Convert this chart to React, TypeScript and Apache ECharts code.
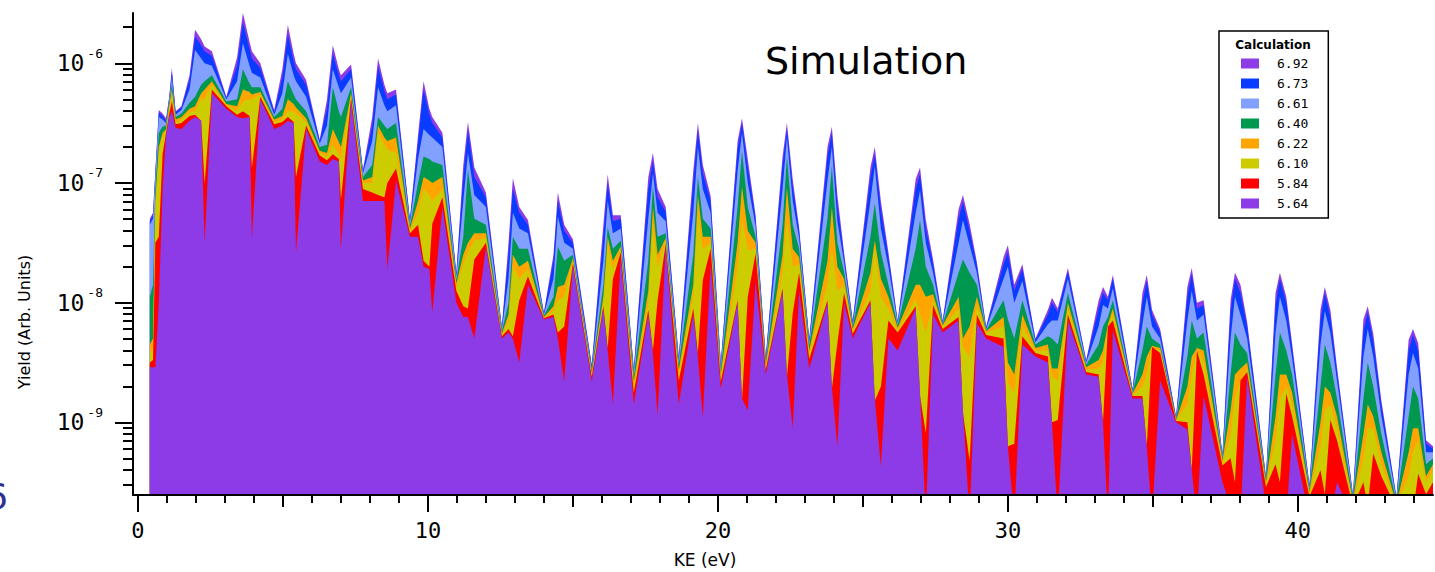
import React, { useEffect, useRef } from "react";
import * as echarts from "echarts";

// Kinetic energy sample positions (eV) shared by all calculations
const energyGrid = [
  0.41, 0.52, 0.6, 0.72, 0.85, 0.97, 1.08, 1.17, 1.3,
  1.5, 1.78, 1.97, 2.18, 2.3, 2.55,
  3.05, 3.42, 3.62, 3.85, 3.93, 4.22,
  4.7, 4.98, 5.17, 5.37, 5.45, 5.8,
  6.27, 6.52, 6.72, 6.93, 7.0, 7.35,
  7.76, 8.08, 8.28, 8.5, 8.6, 8.9,
  9.38, 9.66, 9.85, 10.05, 10.15, 10.5,
  10.98, 11.22, 11.38, 11.6, 12.0,
  12.55, 12.78, 12.93, 13.15, 13.45,
  14.0, 14.33, 14.48, 14.7, 15.0,
  15.65, 16.05, 16.2, 16.38, 16.65,
  17.1, 17.6, 17.76, 17.92, 18.2,
  18.65, 19.15, 19.31, 19.48, 19.75,
  20.1, 20.68, 20.83, 21.03, 21.3,
  21.65, 22.23, 22.38, 22.58, 22.8,
  23.15, 23.78, 23.93, 24.12, 24.35,
  24.65, 25.26, 25.41, 25.62, 25.88,
  26.2, 26.82, 26.97, 27.17, 27.42,
  27.75, 28.3, 28.45, 28.68, 28.93,
  29.25, 29.85, 30.0, 30.22, 30.5,
  30.95, 31.38, 31.52, 31.72, 32.07,
  32.7, 33.13, 33.28, 33.45, 33.62,
  34.3, 34.64, 34.79, 34.97, 35.25,
  35.8, 36.19, 36.34, 36.52, 36.75,
  37.4, 37.68, 37.83, 38.02, 38.25,
  38.9, 39.23, 39.38, 39.6, 39.8,
  40.4, 40.78, 40.93, 41.12, 41.35,
  41.9, 42.26, 42.41, 42.6, 42.88,
  43.4, 43.82, 43.97, 44.15, 44.42,
  44.66,
];

// Yield values, stored as log10(yield)
const log10Yield692 = [
  -7.30, -7.25, -6.90, -6.39, -6.42, -6.46, -6.28, -6.04, -6.40,
  -6.36, -6.10, -5.72, -5.80, -5.86, -5.90,
  -6.28, -5.95, -5.58, -5.82, -5.90, -6.00,
  -6.39, -6.05, -5.68, -5.92, -6.00, -6.14,
  -6.64, -6.30, -5.85, -6.05, -6.10, -6.01,
  -6.89, -6.45, -5.96, -6.18, -6.25, -6.22,
  -7.30, -6.60, -6.15, -6.38, -6.45, -6.58,
  -7.75, -6.85, -6.49, -6.87, -7.08,
  -8.20, -7.50, -6.96, -7.20, -7.31,
  -8.08, -7.60, -7.08, -7.35, -7.47,
  -8.52, -7.35, -6.93, -7.27, -7.27,
  -8.55, -6.95, -6.75, -7.05, -7.20,
  -8.45, -6.90, -6.50, -6.85, -7.11,
  -8.50, -6.65, -6.46, -6.80, -7.27,
  -8.45, -6.78, -6.50, -6.97, -7.37,
  -8.30, -6.70, -6.53, -7.10, -7.58,
  -8.15, -6.87, -6.70, -7.15, -7.58,
  -8.15, -6.97, -6.87, -7.31, -7.64,
  -8.15, -7.22, -7.10, -7.34, -7.66,
  -8.20, -7.62, -7.52, -7.85, -7.68,
  -8.30, -8.06, -7.96, -8.05, -7.71,
  -8.48, -7.98, -7.87, -7.95, -7.77,
  -8.72, -7.92, -7.77, -8.06, -8.22,
  -8.95, -7.87, -7.71, -8.00, -7.98,
  -9.26, -7.98, -7.75, -7.85, -8.16,
  -9.45, -7.92, -7.75, -7.95, -8.34,
  -9.52, -8.06, -7.87, -8.06, -8.54,
  -9.60, -8.14, -8.03, -8.26, -8.82,
  -9.62, -8.31, -8.22, -8.34, -9.15,
  -9.20,
];

const log10Yield673 = [
  -7.32, -7.27, -6.92, -6.41, -6.44, -6.48, -6.29, -6.07, -6.41,
  -6.37, -6.14, -5.78, -5.85, -5.90, -5.94,
  -6.29, -6.02, -5.66, -5.88, -5.96, -6.04,
  -6.41, -6.12, -5.76, -5.98, -6.05, -6.18,
  -6.65, -6.38, -5.92, -6.10, -6.15, -6.05,
  -6.90, -6.52, -6.03, -6.23, -6.30, -6.26,
  -7.31, -6.66, -6.22, -6.43, -6.50, -6.62,
  -7.76, -6.95, -6.56, -6.95, -7.12,
  -8.21, -7.60, -7.05, -7.25, -7.35,
  -8.09, -7.65, -7.15, -7.40, -7.50,
  -8.53, -7.45, -7.00, -7.32, -7.30,
  -8.56, -7.05, -6.82, -7.12, -7.24,
  -8.46, -7.00, -6.56, -6.92, -7.15,
  -8.51, -6.72, -6.50, -6.87, -7.30,
  -8.46, -6.85, -6.55, -7.03, -7.40,
  -8.31, -6.78, -6.58, -7.18, -7.61,
  -8.16, -6.95, -6.76, -7.22, -7.62,
  -8.16, -7.05, -6.93, -7.38, -7.68,
  -8.16, -7.30, -7.16, -7.40, -7.69,
  -8.21, -7.68, -7.58, -7.90, -7.72,
  -8.31, -8.10, -8.00, -8.08, -7.74,
  -8.49, -8.05, -7.92, -7.98, -7.80,
  -8.73, -8.00, -7.82, -8.10, -8.25,
  -8.96, -7.95, -7.76, -8.05, -8.02,
  -9.27, -8.08, -7.80, -7.92, -8.20,
  -9.46, -8.02, -7.80, -8.00, -8.38,
  -9.53, -8.15, -7.92, -8.12, -8.58,
  -9.61, -8.24, -8.08, -8.32, -8.86,
  -9.63, -8.40, -8.27, -8.40, -9.18,
  -9.22,
];

const log10Yield661 = [
  -7.35, -7.30, -6.95, -6.45, -6.47, -6.50, -6.31, -6.12, -6.43,
  -6.39, -6.22, -5.89, -5.96, -6.00, -6.02,
  -6.30, -6.15, -5.83, -6.02, -6.08, -6.12,
  -6.43, -6.25, -5.92, -6.10, -6.15, -6.28,
  -6.67, -6.52, -6.05, -6.20, -6.25, -6.12,
  -6.92, -6.65, -6.20, -6.35, -6.40, -6.35,
  -7.33, -6.80, -6.55, -6.60, -6.62, -6.70,
  -7.78, -7.15, -6.75, -7.10, -7.20,
  -8.22, -7.80, -7.25, -7.38, -7.42,
  -8.10, -7.80, -7.28, -7.50, -7.55,
  -8.55, -7.65, -7.15, -7.42, -7.38,
  -8.58, -7.30, -6.92, -7.25, -7.32,
  -8.48, -7.25, -6.70, -7.05, -7.25,
  -8.53, -6.90, -6.58, -7.00, -7.36,
  -8.48, -7.05, -6.62, -7.15, -7.46,
  -8.33, -6.98, -6.70, -7.32, -7.66,
  -8.18, -7.15, -6.86, -7.38, -7.70,
  -8.17, -7.25, -7.06, -7.50, -7.75,
  -8.17, -7.50, -7.31, -7.52, -7.75,
  -8.22, -7.80, -7.70, -8.00, -7.82,
  -8.33, -8.18, -8.15, -8.15, -7.80,
  -8.50, -8.20, -8.02, -8.05, -7.88,
  -8.74, -8.18, -7.95, -8.20, -8.30,
  -8.97, -8.15, -7.90, -8.15, -8.10,
  -9.28, -8.30, -7.95, -8.10, -8.30,
  -9.47, -8.25, -7.95, -8.15, -8.46,
  -9.54, -8.35, -8.07, -8.25, -8.65,
  -9.62, -8.45, -8.22, -8.45, -8.95,
  -9.64, -8.60, -8.42, -8.55, -9.25,
  -9.25,
];

const log10Yield640 = [
  -7.95, -7.85, -7.05, -6.58, -6.53, -6.52, -6.33, -6.17, -6.45,
  -6.42, -6.33, -6.28, -6.18, -6.15, -6.10,
  -6.32, -6.30, -6.05, -6.17, -6.20, -6.20,
  -6.45, -6.38, -6.15, -6.26, -6.30, -6.40,
  -6.70, -6.68, -6.20, -6.40, -6.45, -6.20,
  -6.95, -6.85, -6.45, -6.52, -6.55, -6.50,
  -7.36, -7.00, -6.78, -6.80, -6.82, -6.85,
  -7.81, -7.45, -6.89, -7.30, -7.35,
  -8.24, -8.00, -7.45, -7.55, -7.55,
  -8.11, -7.95, -7.53, -7.65, -7.60,
  -8.57, -7.85, -7.37, -7.55, -7.48,
  -8.62, -7.65, -7.03, -7.45, -7.42,
  -8.52, -7.60, -6.95, -7.30, -7.38,
  -8.56, -7.20, -6.73, -7.20, -7.45,
  -8.50, -7.35, -6.78, -7.35, -7.55,
  -8.36, -7.30, -6.86, -7.50, -7.74,
  -8.20, -7.45, -7.17, -7.58, -7.85,
  -8.19, -7.55, -7.31, -7.70, -7.85,
  -8.18, -7.75, -7.64, -7.75, -7.85,
  -8.23, -7.98, -8.14, -8.30, -7.98,
  -8.35, -8.28, -8.30, -8.35, -7.92,
  -8.52, -8.35, -8.20, -8.12, -7.98,
  -8.75, -8.40, -8.20, -8.30, -8.35,
  -8.97, -8.45, -8.15, -8.30, -8.25,
  -9.30, -8.60, -8.25, -8.35, -8.42,
  -9.48, -8.60, -8.25, -8.40, -8.60,
  -9.56, -8.70, -8.35, -8.50, -8.80,
  -9.64, -8.80, -8.50, -8.70, -9.10,
  -9.66, -8.95, -8.70, -8.80, -9.35,
  -9.30,
];

const log10Yield622 = [
  -8.35, -8.30, -7.15, -6.70, -6.58, -6.55, -6.35, -6.22, -6.47,
  -6.45, -6.38, -6.36, -6.25, -6.22, -6.15,
  -6.34, -6.36, -6.22, -6.24, -6.26, -6.24,
  -6.47, -6.44, -6.30, -6.34, -6.37, -6.46,
  -6.73, -6.75, -6.55, -6.66, -6.70, -6.25,
  -6.98, -6.95, -6.52, -6.62, -6.65, -6.62,
  -7.38, -7.15, -6.95, -6.98, -7.00, -6.95,
  -7.84, -7.60, -7.50, -7.42, -7.42,
  -8.26, -8.10, -7.60, -7.70, -7.65,
  -8.12, -8.03, -7.87, -7.85, -7.63,
  -8.59, -7.95, -7.45, -7.65, -7.53,
  -8.66, -7.90, -7.20, -7.60, -7.46,
  -8.56, -7.85, -7.10, -7.45, -7.45,
  -8.60, -7.50, -7.03, -7.40, -7.50,
  -8.52, -7.60, -7.04, -7.55, -7.62,
  -8.40, -7.65, -7.20, -7.70, -7.80,
  -8.22, -7.75, -7.48, -7.80, -7.95,
  -8.21, -7.85, -7.85, -7.95, -7.93,
  -8.19, -7.95, -8.30, -8.20, -7.95,
  -8.24, -8.12, -8.50, -8.60, -8.10,
  -8.38, -8.35, -8.55, -8.55, -8.00,
  -8.54, -8.48, -8.40, -8.18, -8.05,
  -8.76, -8.60, -8.45, -8.36, -8.38,
  -8.98, -8.70, -8.45, -8.38, -8.40,
  -9.32, -8.90, -8.60, -8.55, -8.50,
  -9.50, -8.95, -8.60, -8.60, -8.75,
  -9.58, -9.00, -8.70, -8.75, -8.95,
  -9.66, -9.10, -8.85, -8.95, -9.25,
  -9.68, -9.25, -9.05, -9.05, -9.45,
  -9.35,
];

const log10Yield610 = [
  -8.42, -8.38, -7.20, -6.75, -6.62, -6.56, -6.37, -6.26, -6.49,
  -6.47, -6.41, -6.40, -6.30, -6.30, -6.18,
  -6.35, -6.40, -6.32, -6.30, -6.30, -6.26,
  -6.49, -6.47, -6.40, -6.40, -6.42, -6.49,
  -6.75, -6.78, -6.68, -6.76, -6.80, -6.27,
  -7.00, -7.00, -6.58, -6.68, -6.72, -6.75,
  -7.40, -7.25, -7.05, -7.10, -7.15, -7.05,
  -7.87, -7.68, -7.58, -7.48, -7.46,
  -8.27, -8.16, -7.70, -7.80, -7.72,
  -8.13, -8.07, -7.98, -7.95, -7.65,
  -8.60, -8.00, -7.53, -7.72, -7.56,
  -8.70, -8.00, -7.37, -7.70, -7.49,
  -8.60, -7.95, -7.25, -7.55, -7.50,
  -8.63, -7.70, -7.31, -7.56, -7.55,
  -8.54, -7.75, -7.31, -7.70, -7.68,
  -8.43, -7.85, -7.56, -7.90, -7.86,
  -8.24, -7.90, -7.53, -7.95, -8.05,
  -8.23, -7.97, -8.10, -8.25, -7.98,
  -8.20, -8.05, -8.37, -8.45, -8.02,
  -8.25, -8.20, -8.67, -8.75, -8.20,
  -8.40, -8.40, -8.62, -8.65, -8.05,
  -8.56, -8.55, -8.50, -8.20, -8.10,
  -8.77, -8.70, -8.60, -8.38, -8.40,
  -8.98, -8.85, -8.60, -8.40, -8.50,
  -9.34, -9.10, -8.80, -8.65, -8.55,
  -9.52, -9.15, -8.80, -8.70, -8.85,
  -9.60, -9.20, -8.90, -8.85, -9.05,
  -9.68, -9.30, -9.05, -9.05, -9.35,
  -9.70, -9.45, -9.25, -9.15, -9.50,
  -9.40,
];

const log10Yield584 = [
  -8.50, -8.48, -7.50, -7.45, -6.76, -6.58, -6.42, -6.32, -6.51,
  -6.50, -6.44, -6.43, -6.48, -7.00, -6.22,
  -6.36, -6.43, -6.40, -6.44, -6.87, -6.28,
  -6.51, -6.49, -6.45, -6.49, -6.95, -6.52,
  -6.77, -6.81, -6.76, -6.80, -7.14, -6.29,
  -7.05, -7.08, -7.10, -7.12, -7.00, -6.88,
  -7.42, -7.35, -7.65, -7.70, -7.34, -7.12,
  -7.90, -8.03, -8.05, -7.64, -7.50,
  -8.28, -8.22, -8.28, -7.98, -7.78,
  -8.13, -8.10, -8.25, -8.20, -7.67,
  -8.62, -8.03, -8.38, -7.80, -7.58,
  -8.75, -8.06, -8.40, -7.98, -7.51,
  -8.65, -8.05, -8.42, -7.81, -7.55,
  -8.66, -7.98, -8.82, -7.95, -7.59,
  -8.56, -7.88, -8.62, -8.09, -7.75,
  -8.47, -7.98, -8.72, -8.34, -7.92,
  -8.26, -7.98, -8.82, -8.70, -8.15,
  -8.25, -8.03, -8.78, -9.09, -8.02,
  -8.22, -8.12, -8.92, -9.32, -8.10,
  -8.27, -8.30, -9.20, -9.18, -8.28,
  -8.42, -8.45, -9.00, -8.98, -8.10,
  -8.58, -8.60, -9.00, -8.20, -8.15,
  -8.78, -8.78, -9.20, -8.37, -8.42,
  -8.99, -9.00, -9.40, -8.40, -8.60,
  -9.36, -9.30, -9.50, -8.65, -8.58,
  -9.54, -9.35, -9.50, -8.76, -8.95,
  -9.62, -9.40, -9.60, -8.98, -9.15,
  -9.70, -9.50, -9.70, -9.26, -9.45,
  -9.72, -9.60, -9.75, -9.43, -9.60,
  -9.50,
];

const log10Yield564 = [
  -8.54, -8.54, -8.54, -8.00, -7.05, -6.60, -6.45, -6.40, -6.54,
  -6.55, -6.48, -6.45, -6.48, -7.50, -6.25,
  -6.38, -6.45, -6.46, -6.45, -7.46, -6.30,
  -6.55, -6.52, -6.48, -6.50, -7.58, -6.55,
  -6.82, -6.85, -6.80, -6.82, -7.56, -6.32,
  -7.15, -7.15, -7.15, -7.15, -7.72, -6.98,
  -7.45, -7.45, -7.70, -7.72, -8.08, -7.20,
  -8.00, -8.12, -8.12, -8.30, -7.53,
  -8.30, -8.25, -8.30, -8.50, -7.85,
  -8.14, -8.12, -8.30, -8.66, -7.69,
  -8.66, -8.05, -8.40, -8.85, -7.62,
  -8.85, -8.10, -8.42, -8.94, -7.53,
  -8.85, -8.10, -8.45, -8.96, -7.68,
  -8.72, -8.00, -8.80, -8.90, -7.82,
  -8.60, -7.90, -8.60, -9.05, -7.90,
  -8.55, -8.00, -8.70, -9.20, -8.00,
  -8.30, -8.00, -8.80, -9.37, -8.30,
  -8.40, -8.05, -8.75, -9.80, -8.10,
  -8.25, -8.15, -8.90, -9.80, -8.17,
  -8.30, -8.37, -9.20, -9.80, -8.35,
  -8.45, -8.50, -9.00, -9.80, -8.15,
  -8.60, -8.62, -9.00, -9.80, -8.23,
  -8.80, -8.80, -9.20, -9.80, -8.65,
  -9.00, -9.06, -9.40, -9.80, -8.78,
  -9.50, -9.70, -9.80, -9.80, -8.62,
  -9.70, -9.70, -9.80, -9.80, -9.10,
  -9.80, -9.80, -9.80, -9.80, -9.50,
  -9.80, -9.80, -9.80, -9.80, -9.70,
  -9.80, -9.80, -9.80, -9.80, -9.80,
  -9.80,
];

const calcLabels = ["6.92", "6.73", "6.61", "6.40", "6.22", "6.10", "5.84", "5.64"];
const calcColors = ["#8c3be6", "#0a3cff", "#82a0ff", "#00984e", "#ffa500", "#cccc00", "#ff0000", "#8c3be6"];
const calcSeries = [
  log10Yield692, log10Yield673, log10Yield661, log10Yield640,
  log10Yield622, log10Yield610, log10Yield584, log10Yield564,
];

const majorXTicks = [0, 10, 20, 30, 40];
const midXTicks = [5, 15, 25, 35];
const minorXTicks = [
  1, 2, 3, 4, 6, 7, 8, 9, 11, 12, 13, 14, 16, 17, 18, 19, 21, 22, 23, 24,
  26, 27, 28, 29, 31, 32, 33, 34, 36, 37, 38, 39, 41, 42, 43, 44,
];
const majorYTicks = [1e-9, 1e-8, 1e-7, 1e-6];
const minorYTicks = [
  3e-10, 4e-10, 5e-10, 6e-10, 7e-10, 8e-10, 9e-10,
  2e-9, 3e-9, 4e-9, 5e-9, 6e-9, 7e-9, 8e-9, 9e-9,
  2e-8, 3e-8, 4e-8, 5e-8, 6e-8, 7e-8, 8e-8, 9e-8,
  2e-7, 3e-7, 4e-7, 5e-7, 6e-7, 7e-7, 8e-7, 9e-7,
  2e-6,
];

const X_MIN = -0.17;
const X_MAX = 44.66;
const Y_MIN = 2.47e-10;
const Y_MAX = 2.63e-6;

const monoFont = "DejaVu Sans Mono";
const sansFont = "DejaVu Sans";

function xAxisOf(ticks: number[], len: number, withLine: boolean) {
  return {
    type: "value",
    min: X_MIN,
    max: X_MAX,
    position: "bottom",
    z: 30,
    axisLine: { show: withLine, onZero: false, lineStyle: { color: "#000", width: 2 } },
    axisTick: { show: true, customValues: ticks, length: len, lineStyle: { color: "#000", width: 2 } },
    axisLabel: withLine
      ? { show: true, customValues: ticks, margin: 24, fontSize: 22, fontFamily: monoFont, color: "#000" }
      : { show: false },
    splitLine: { show: false },
  };
}

export default function App() {
  const ref = useRef<HTMLDivElement>(null);

  useEffect(() => {
    document.body.style.margin = "0";
    if (!ref.current) return;
    const chart = echarts.init(ref.current, null, { renderer: "svg" });

    const series = calcSeries.map((exps, i) => ({
      name: calcLabels[i],
      type: "line",
      xAxisIndex: 0,
      yAxisIndex: 0,
      data: energyGrid.map((x, j) => [x, Math.pow(10, exps[j])]),
      symbol: "none",
      showSymbol: false,
      smooth: false,
      silent: true,
      z: 2 + i,
      itemStyle: { color: calcColors[i] },
      lineStyle: { width: 0, color: calcColors[i] },
      areaStyle: { color: calcColors[i], opacity: 1, origin: "start" },
      emphasis: { disabled: true },
    }));

    const option = {
      animation: false,
      backgroundColor: "#ffffff",
      grid: { left: 133, right: 2, top: 13, bottom: 77, containLabel: false },
      xAxis: [
        xAxisOf(majorXTicks, 17, true),
        xAxisOf(midXTicks, 12, false),
        xAxisOf(minorXTicks, 8, false),
      ],
      yAxis: [
        {
          type: "log",
          logBase: 10,
          min: Y_MIN,
          max: Y_MAX,
          position: "left",
          z: 30,
          axisLine: { show: true, onZero: false, lineStyle: { color: "#000", width: 2 } },
          axisTick: { show: true, customValues: majorYTicks, length: 18, lineStyle: { color: "#000", width: 2 } },
          axisLabel: {
            show: true,
            customValues: majorYTicks,
            margin: 30,
            formatter: (v: number) => {
              const e = Math.round(Math.log10(v));
              return `{b|10}{s|${e}}`;
            },
            rich: {
              b: { fontSize: 23, fontFamily: monoFont, color: "#000" },
              s: { fontSize: 13, fontFamily: monoFont, color: "#000", padding: [0, 0, 20, 3] },
            },
          },
          splitLine: { show: false },
          minorTick: { show: false },
        },
        {
          type: "log",
          logBase: 10,
          min: Y_MIN,
          max: Y_MAX,
          position: "left",
          z: 30,
          axisLine: { show: false, onZero: false },
          axisTick: { show: true, customValues: minorYTicks, length: 10, lineStyle: { color: "#000", width: 2 } },
          axisLabel: { show: false },
          splitLine: { show: false },
        },
      ],
      legend: {
        orient: "vertical",
        left: 1219,
        top: 31,
        z: 20,
        data: calcLabels,
        icon: "rect",
        itemWidth: 18,
        itemHeight: 10,
        itemGap: 7,
        padding: [26, 20, 8, 22],
        borderColor: "#000",
        borderWidth: 1.5,
        backgroundColor: "#fff",
        selectedMode: false,
        textStyle: { fontFamily: monoFont, fontSize: 13, lineHeight: 13, color: "#000", padding: [0, 0, 0, 13] },
      },
      graphic: [
        {
          type: "text",
          z: 40,
          x: 1273,
          y: 45,
          style: {
            text: "Calculation",
            fontSize: 12,
            fontWeight: "bold",
            fontFamily: sansFont,
            fill: "#000",
            align: "center",
            verticalAlign: "middle",
            textAlign: "center",
            textVerticalAlign: "middle",
          },
        },
        {
          type: "text",
          z: 40,
          x: 765,
          y: 61,
          style: {
            text: "Simulation",
            fontSize: 38,
            fontFamily: sansFont,
            fill: "#000",
            align: "left",
            verticalAlign: "middle",
            textAlign: "left",
            textVerticalAlign: "middle",
          },
        },
        {
          type: "text",
          z: 40,
          x: 705,
          y: 560,
          style: {
            text: "KE (eV)",
            fontSize: 17,
            fontFamily: sansFont,
            fill: "#000",
            align: "center",
            verticalAlign: "middle",
            textAlign: "center",
            textVerticalAlign: "middle",
          },
        },
        {
          type: "text",
          z: 40,
          x: 24,
          y: 322,
          rotation: Math.PI / 2,
          style: {
            text: "Yield (Arb. Units)",
            fontSize: 16,
            fontFamily: sansFont,
            fill: "#000",
            align: "center",
            verticalAlign: "middle",
            textAlign: "center",
            textVerticalAlign: "middle",
          },
        },
        {
          type: "text",
          z: 40,
          x: -15,
          y: 496,
          style: {
            text: "6",
            fontSize: 36,
            fontFamily: sansFont,
            fill: "#2e2f8f",
            align: "left",
            verticalAlign: "middle",
            textAlign: "left",
            textVerticalAlign: "middle",
          },
        },
      ],
      series,
    };

    chart.setOption(option as any);
    return () => chart.dispose();
  }, []);

  return <div ref={ref} style={{ width: 1435, height: 572 }} />;
}
